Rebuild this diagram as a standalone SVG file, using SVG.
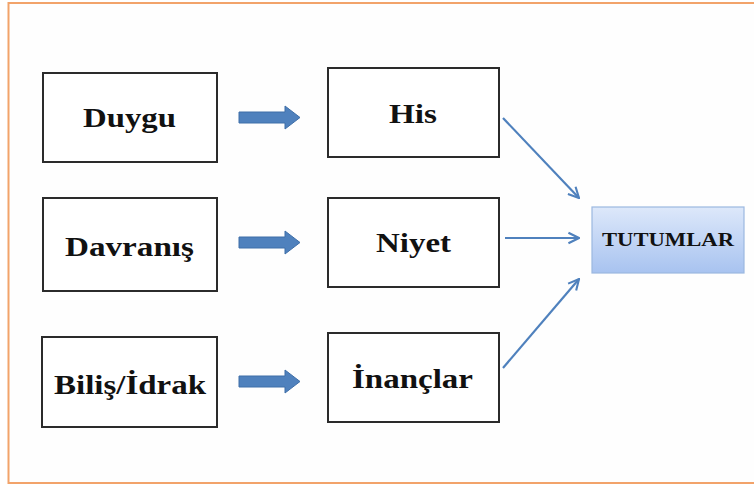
<svg xmlns="http://www.w3.org/2000/svg" width="754" height="486" viewBox="0 0 754 486">
<defs>
<style>
.box{fill:#fff;stroke:#2b2b2b;stroke-width:2}
.t{font-family:"Liberation Serif","Times New Roman",serif;font-weight:bold;font-size:27px;fill:#111}
.blk{fill:#4F81BD;stroke:#3f6fa8;stroke-width:1}
.ln{stroke:#4F81BD;stroke-width:2.2;fill:none;marker-end:url(#ah)}
</style>
<linearGradient id="g" x1="0" y1="0" x2="0" y2="1">
<stop offset="0" stop-color="#DDE8FA"/>
<stop offset="1" stop-color="#A8C3F0"/>
</linearGradient>
<marker id="ah" viewBox="0 0 10 10" refX="9" refY="5" markerWidth="6" markerHeight="6" orient="auto" markerUnits="strokeWidth">
<path d="M1,1 L9,5 L1,9" fill="none" stroke="#4F81BD" stroke-width="1.6"/>
</marker>
</defs>
<rect x="0" y="0" width="754" height="486" fill="#fff"/>
<rect x="8.5" y="3" width="760" height="480" fill="#fefefe" stroke="#F2A36A" stroke-width="2"/>
<g id="duygu"><rect class="box" x="43" y="73" width="174" height="89"/><text class="t" x="83" y="127" textLength="93" lengthAdjust="spacingAndGlyphs">Duygu</text></g>
<g id="davranis"><rect class="box" x="43" y="198" width="174" height="93"/><text class="t" x="65" y="256" textLength="129" lengthAdjust="spacingAndGlyphs">Davranış</text></g>
<g id="bilis"><rect class="box" x="42" y="337" width="175" height="90"/><text class="t" x="54" y="394" textLength="152" lengthAdjust="spacingAndGlyphs">Biliş/İdrak</text></g>
<g id="his"><rect class="box" x="328" y="68" width="171" height="89"/><text class="t" x="389" y="123" textLength="48" lengthAdjust="spacingAndGlyphs">His</text></g>
<g id="niyet"><rect class="box" x="328" y="198" width="171" height="89"/><text class="t" x="376" y="252" textLength="75" lengthAdjust="spacingAndGlyphs">Niyet</text></g>
<g id="inanclar"><rect class="box" x="328" y="333" width="171" height="89"/><text class="t" x="352" y="388" textLength="121" lengthAdjust="spacingAndGlyphs">İnançlar</text></g>
<g id="tutumlar"><rect x="592" y="207" width="152" height="66" fill="url(#g)" stroke="#9BB8E0" stroke-width="1.2"/><text class="t" style="font-size:18px" x="602" y="246" textLength="132" lengthAdjust="spacingAndGlyphs">TUTUMLAR</text></g>
<g id="connectors">
<path class="blk" d="M239,112 H285 V106 L300,117.5 L285,129 V123 H239 Z"/>
<path class="blk" d="M239,237 H285 V231 L300,242.5 L285,254 V248 H239 Z"/>
<path class="blk" d="M239,376 H285 V370 L300,381.5 L285,393 V387 H239 Z"/>
<line class="ln" x1="503" y1="118" x2="579" y2="198"/>
<line class="ln" x1="505" y1="238" x2="579" y2="238"/>
<line class="ln" x1="503" y1="368" x2="579" y2="279"/>
</g>
</svg>
